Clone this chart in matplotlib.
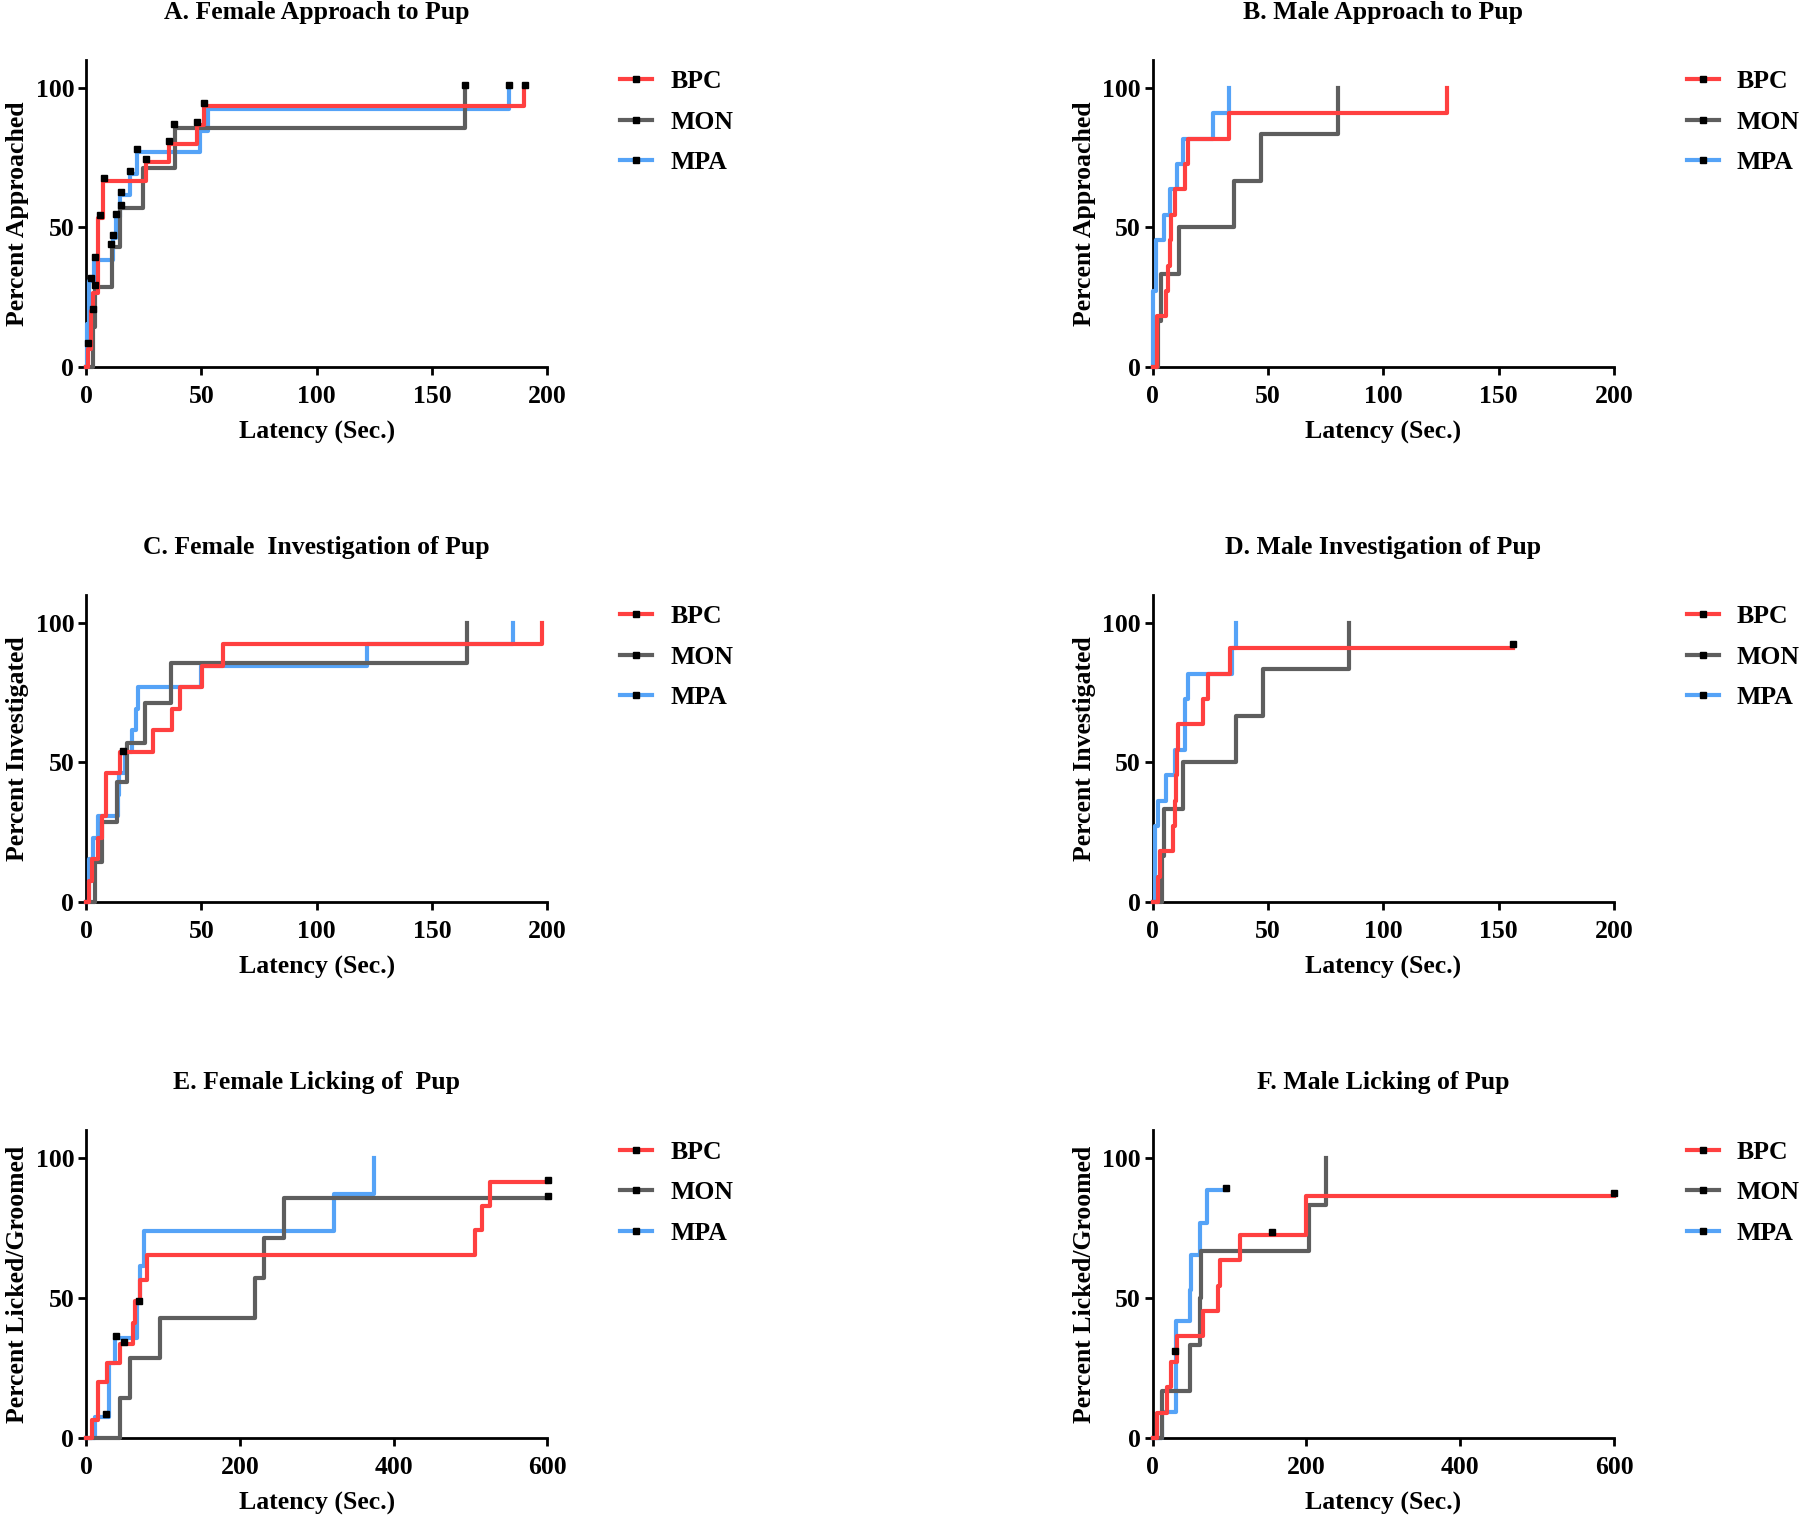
import matplotlib
matplotlib.use('Agg')
import matplotlib.pyplot as plt
from matplotlib.lines import Line2D

plt.rcParams['font.family'] = ['Liberation Serif', 'DejaVu Serif']
plt.rcParams['font.weight'] = 'bold'
plt.rcParams['axes.labelweight'] = 'bold'
plt.rcParams['axes.titleweight'] = 'bold'
FS = 18.5
plt.rcParams['font.size'] = FS

# ---------------- data ----------------
groups = ['BPC', 'MON', 'MPA']
colors = {'BPC': '#FF4040', 'MON': '#5E5E5E', 'MPA': '#55A3F7'}

titles = ['A. Female Approach to Pup', 'B. Male Approach to Pup',
          'C. Female  Investigation of Pup', 'D. Male Investigation of Pup',
          'E. Female Licking of  Pup', 'F. Male Licking of Pup']
ylabels = ['Percent Approached', 'Percent Approached',
           'Percent Investigated', 'Percent Investigated',
           'Percent Licked/Groomed', 'Percent Licked/Groomed']
xlabel = 'Latency (Sec.)'
xticks_short = [0, 50, 100, 150, 200]
xticks_long = [0, 200, 400, 600]
yticks = [0, 50, 100]

# Panel A
a_bpc_t = [0, 1, 2, 3, 5, 7.5, 26, 36, 48, 51, 190]
a_bpc_p = [0, 6.7, 20, 26.7, 53.3, 66.7, 73.3, 80, 86.7, 93.3, 100]
a_mon_t = [0, 3.0, 3.9, 11.1, 14.7, 24.9, 38.6, 164.3]
a_mon_p = [0, 14.3, 28.6, 42.9, 57.1, 71.4, 85.7, 100]
a_mpa_t = [0, 0.5, 1.2, 3.5, 11.5, 13, 14.7, 19, 22, 49.4, 53, 183.4]
a_mpa_p = [0, 15.4, 30.8, 38.5, 46.2, 53.8, 61.5, 69.2, 76.9, 84.6, 92.3, 100]
a_mark_x = [1.0, 2.9, 3.9, 3.9, 2.0, 6.1, 7.9, 11.8, 13, 10.8, 15, 15, 19, 22.3,
            26, 36.1, 38.2, 48, 51.2, 164.3, 183.4, 190.3]
a_mark_y = [8.6, 21, 29.4, 39.6, 31.8, 54.5, 67.8, 47.3, 54.8, 44.1, 58, 62.6, 70.3, 78,
            74.5, 81, 86.9, 87.8, 94.4, 101, 101, 101]

# Panel B
b_bpc_t = [0, 1.7, 5.8, 6.5, 7.3, 8.0, 9.7, 13.8, 15.1, 33, 127.5]
b_bpc_p = [0, 18.2, 27.3, 36.4, 45.5, 54.5, 63.6, 72.7, 81.8, 90.9, 100]
b_mon_t = [0, 2.5, 3.5, 11.2, 35.1, 47, 80.3]
b_mon_p = [0, 16.7, 33.3, 50, 66.7, 83.3, 100]
b_mpa_t = [0, 0.3, 1.45, 4.9, 7.5, 10.4, 13.3, 26.3, 33.1]
b_mpa_p = [0, 27.3, 45.5, 54.5, 63.6, 72.7, 81.8, 90.9, 100]
b_mark_x = []
b_mark_y = []

# Panel C
c_bpc_t = [0, 1.5, 2.5, 5.3, 6.8, 8.7, 14.7, 29.2, 37.1, 40.8, 50.1, 59.2, 197.5]
c_bpc_p = [0, 7.7, 15.4, 23.1, 30.8, 46.2, 53.8, 61.5, 69.2, 76.9, 84.6, 92.3, 100]
c_mon_t = [0, 4.0, 6.8, 13.3, 17.6, 25.6, 36.7, 165]
c_mon_p = [0, 14.3, 28.6, 42.9, 57.1, 71.4, 85.7, 100]
c_mpa_t = [0, 1.4, 2.9, 5.3, 14.0, 14.5, 17, 19.8, 21.5, 22.7, 50, 121.7, 185.3]
c_mpa_p = [0, 15.4, 23.1, 30.8, 38.5, 46.2, 53.8, 61.5, 69.2, 76.9, 84.6, 92.3, 100]
c_mark_x = [15.9]
c_mark_y = [54.2]

# Panel D
d_bpc_t = [0, 2.5, 3.2, 9.0, 9.5, 10, 10.5, 11.1, 22, 23.8, 33.5, 156]
d_bpc_p = [0, 9.1, 18.2, 27.3, 36.4, 45.5, 54.5, 63.6, 72.7, 81.8, 90.9, 90.9]
d_mon_t = [0, 4.0, 4.9, 13, 36.1, 48, 85.3]
d_mon_p = [0, 16.7, 33.3, 50, 66.7, 83.3, 100]
d_mpa_t = [0, 1.0, 2.5, 5.8, 9.7, 14, 15.2, 34.2, 36.1]
d_mpa_p = [0, 27.3, 36.4, 45.5, 54.5, 72.7, 81.8, 90.9, 100]
d_mark_x = [156]
d_mark_y = [92.4]

# Panel E
e_bpc_t = [0, 7.8, 15.2, 27.3, 43.8, 61.2, 64.2, 70.7, 79.4, 506, 515, 526, 600]
e_bpc_p = [0, 6.5, 20.2, 26.8, 33.6, 41.1, 48.9, 56.6, 65.5, 74.3, 82.9, 91.5, 91.5]
e_mon_t = [0, 43.8, 57.7, 95.9, 220.4, 231.2, 257.3, 600]
e_mon_p = [0, 14.3, 28.6, 42.9, 57.1, 71.4, 85.7, 85.7]
e_mpa_t = [0, 12.1, 29.5, 38.2, 66.4, 70.7, 75.9, 322.3, 374.4]
e_mpa_p = [0, 7.6, 26.8, 35.7, 48.9, 61.4, 74.0, 87.1, 100]
e_mark_x = [26.5, 39, 49, 69.4, 600.5, 600.5]
e_mark_y = [8.5, 36.3, 34.2, 49.1, 92.2, 86.5]

# Panel F
f_bpc_t = [0, 6, 18.2, 23.4, 32.1, 65.9, 85, 87.6, 113.6, 199, 600]
f_bpc_p = [0, 9.1, 18.2, 27.3, 36.4, 45.5, 54.5, 63.6, 72.7, 86.4, 86.4]
f_mon_t = [0, 12.6, 48.5, 62, 62.4, 203.3, 225]
f_mon_p = [0, 16.7, 33.3, 50, 66.7, 83.3, 100]
f_mpa_t = [0, 12.6, 30, 48.5, 49.4, 61.6, 71.1, 95]
f_mpa_p = [0, 9.4, 41.7, 53, 65.3, 76.9, 88.6, 88.6]
f_mark_x = [29, 94.9, 155.6, 600]
f_mark_y = [31, 89.4, 73.7, 87.5]

panels = [
    (a_bpc_t, a_bpc_p, a_mon_t, a_mon_p, a_mpa_t, a_mpa_p, a_mark_x, a_mark_y, 200),
    (b_bpc_t, b_bpc_p, b_mon_t, b_mon_p, b_mpa_t, b_mpa_p, b_mark_x, b_mark_y, 200),
    (c_bpc_t, c_bpc_p, c_mon_t, c_mon_p, c_mpa_t, c_mpa_p, c_mark_x, c_mark_y, 200),
    (d_bpc_t, d_bpc_p, d_mon_t, d_mon_p, d_mpa_t, d_mpa_p, d_mark_x, d_mark_y, 200),
    (e_bpc_t, e_bpc_p, e_mon_t, e_mon_p, e_mpa_t, e_mpa_p, e_mark_x, e_mark_y, 600),
    (f_bpc_t, f_bpc_p, f_mon_t, f_mon_p, f_mpa_t, f_mpa_p, f_mark_x, f_mark_y, 600),
]

# ---------------- layout ----------------
W, H = 1800, 1517
fig = plt.figure(figsize=(W / 100, H / 100), dpi=100)
lefts = [86, 1152.7]
bottoms = [367.3, 902.3, 1438]
ax_w = 461.3
ax_h = 307.6

LW = 3.0
for i, pdata in enumerate(panels):
    bt, bp, mt, mp, pt, pp, mx, my, xmax = pdata
    col = i % 2
    row = i // 2
    ax = fig.add_axes([lefts[col] / W, 1 - bottoms[row] / H, ax_w / W, ax_h / H])
    ax.step(pt, pp, where='post', color=colors['MPA'], lw=LW, zorder=3, clip_on=False)
    ax.step(mt, mp, where='post', color=colors['MON'], lw=LW, zorder=4, clip_on=False)
    ax.step(bt, bp, where='post', color=colors['BPC'], lw=LW, zorder=5, clip_on=False)
    if mx:
        ax.plot(mx, my, 's', color='k', ms=3.8, zorder=6, clip_on=False)
    ax.set_xlim(0, xmax)
    ax.set_ylim(0, 110)
    ax.set_xticks(xticks_short if xmax == 200 else xticks_long)
    ax.set_yticks(yticks)
    for s in ['top', 'right']:
        ax.spines[s].set_visible(False)
    for s in ['left', 'bottom']:
        ax.spines[s].set_linewidth(2.0)
    ax.tick_params(direction='out', length=6, width=2.0, labelsize=FS)
    ax.tick_params(axis='x', pad=7)
    ax.tick_params(axis='y', pad=2.5)
    ax.set_title(titles[i], fontsize=FS, fontweight='bold', pad=29.5)
    ax.set_xlabel(xlabel, fontsize=FS, fontweight='bold', labelpad=9)
    ax.set_ylabel(ylabels[i], fontsize=FS, fontweight='bold', labelpad=4.7)
    handles = [Line2D([0], [0], color=colors[g], lw=LW, marker='s', mfc='k', mec='k', ms=3.8)
               for g in groups]
    ax.legend(handles, groups, loc='upper left', bbox_to_anchor=(1.158, 0.966),
              frameon=False, handlelength=1.25, handletextpad=0.7, labelspacing=0.68,
              borderpad=0, borderaxespad=0, fontsize=FS, numpoints=1)

fig.savefig('out.png', dpi=100)
